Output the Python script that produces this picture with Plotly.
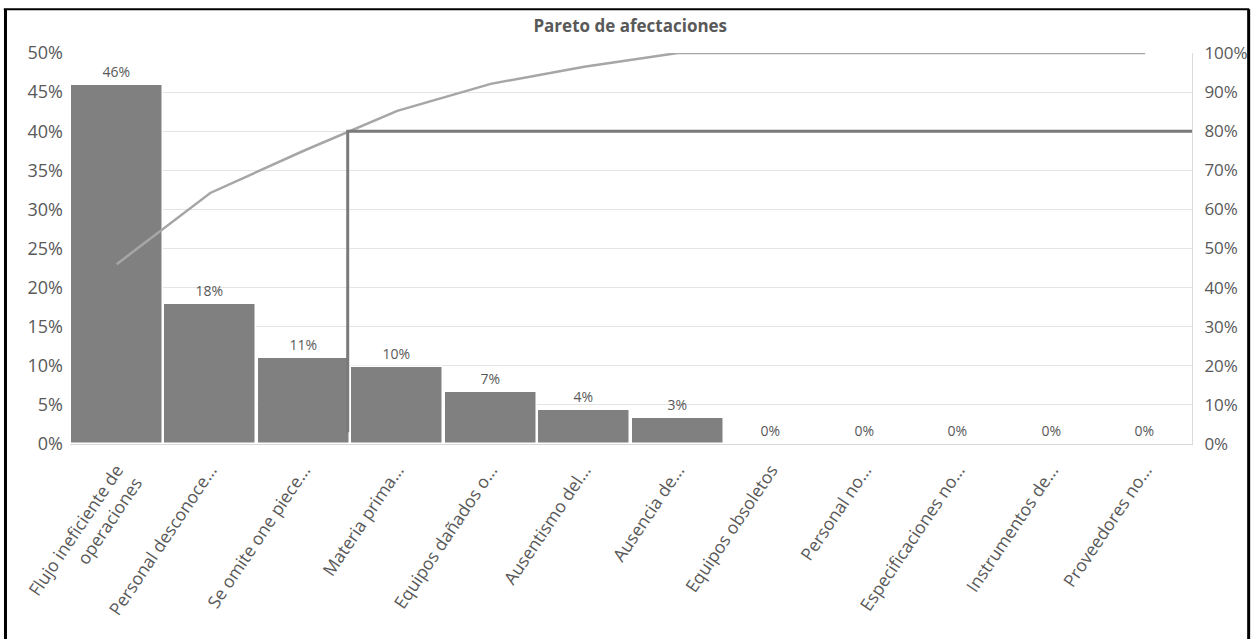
import plotly.graph_objects as go

categories = [
    "Flujo ineficiente de<br>operaciones",
    "Personal desconoce...",
    "Se omite one piece...",
    "Materia prima...",
    "Equipos dañados o...",
    "Ausentismo del...",
    "Ausencia de...",
    "Equipos obsoletos",
    "Personal no...",
    "Especificaciones no...",
    "Instrumentos de...",
    "Proveedores no...",
]
share = [0.459, 0.179, 0.110, 0.099, 0.066, 0.043, 0.033, 0, 0, 0, 0, 0]
cumulative = [0.46, 0.642, 0.75, 0.852, 0.921, 0.965, 1.0, 1.0, 1.0, 1.0, 1.0, 1.0]
left_ticks = [0, 0.05, 0.10, 0.15, 0.20, 0.25, 0.30, 0.35, 0.40, 0.45, 0.50]
right_ticks = [0, 0.1, 0.2, 0.3, 0.4, 0.5, 0.6, 0.7, 0.8, 0.9, 1.0]
cut_x = [2.47, 2.47, 11.5]
cut_y = [0.03, 0.80, 0.80]

FONT = "Open Sans"
GREY_TXT = "#595959"

x = list(range(len(categories)))

fig = go.Figure()
fig.add_trace(go.Bar(
    x=x, y=share, width=0.985,
    marker=dict(color="#808080", line=dict(color="#ffffff", width=1.5)),
    text=[f"{v:.0%}" for v in share], textposition="outside",
    textfont=dict(size=14, color=GREY_TXT, family=FONT),
    cliponaxis=False, showlegend=False, yaxis="y",
))
fig.add_trace(go.Scatter(
    x=x, y=cumulative, mode="lines",
    line=dict(color="#a6a6a6", width=2.5),
    cliponaxis=False, showlegend=False, yaxis="y2",
))
fig.add_trace(go.Scatter(
    x=cut_x, y=cut_y, mode="lines",
    line=dict(color="#7a7a7a", width=3),
    cliponaxis=False, showlegend=False, yaxis="y2",
))

fig.update_layout(
    width=1253, height=639,
    margin=dict(l=70, r=61, t=53, b=195, autoexpand=False),
    paper_bgcolor="white", plot_bgcolor="white",
    font=dict(family=FONT, color=GREY_TXT),
    title=dict(text="<b>Pareto de afectaciones</b>", x=0.503, xanchor="center",
               y=0.96, yanchor="middle", yref="container",
               font=dict(size=17, color=GREY_TXT, family=FONT)),
    bargap=0,
    xaxis=dict(
        range=[-0.5, 11.5], tickmode="array", tickvals=x, ticktext=categories,
        tickangle=-56, tickfont=dict(size=17.5, color=GREY_TXT, family=FONT),
        showgrid=False, zeroline=False, showline=True, linecolor="#d9d9d9",
        linewidth=1, ticks="", ticklabelstandoff=8, automargin=False,
    ),
    yaxis=dict(
        range=[0, 0.5], tickmode="array", tickvals=left_ticks, tickformat=".0%",
        tickfont=dict(size=18, color=GREY_TXT, family=FONT),
        showgrid=True, gridcolor="#e4e4e4", gridwidth=1, zeroline=False,
        showline=False, ticks="", ticklabelstandoff=6, automargin=False,
    ),
    yaxis2=dict(
        range=[0, 1.0], tickmode="array", tickvals=right_ticks, tickformat=".0%",
        tickfont=dict(size=17, color=GREY_TXT, family=FONT),
        overlaying="y", side="right", showgrid=False, zeroline=False,
        showline=True, linecolor="#d9d9d9", linewidth=1, ticks="",
        ticklabelstandoff=8, automargin=False,
    ),
    shapes=[
        dict(type="line", xref="paper", yref="paper", x0=-0.0575, x1=-0.0575, y0=1.112, y1=-0.55,
             line=dict(color="black", width=3)),
        dict(type="line", xref="paper", yref="paper", x0=-0.059, x1=1.051, y0=1.112, y1=1.112,
             line=dict(color="black", width=2)),
        dict(type="line", xref="paper", yref="paper", x0=1.0505, x1=1.0505, y0=1.112, y1=-0.55,
             line=dict(color="black", width=3)),
    ],
)

fig.write_html("out.html")
